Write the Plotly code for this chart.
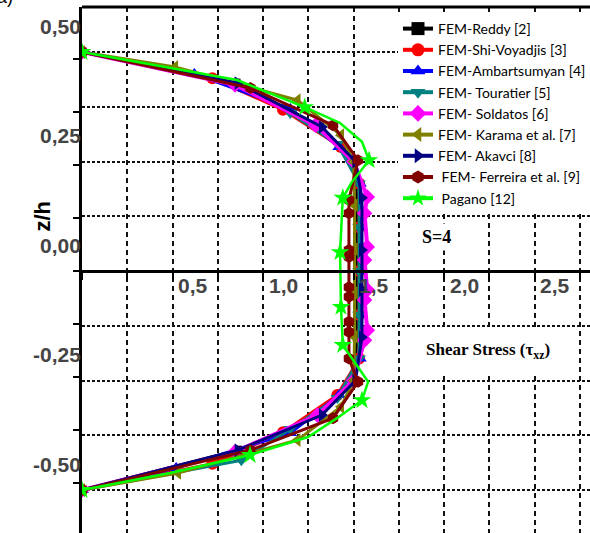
import plotly.graph_objects as go

# ---------------- data ----------------
reddy_z   = [0.5, 0.429, 0.329, 0.25, 0.167, 0.048, -0.043, -0.151, -0.25, -0.329, -0.409, -0.5]
reddy_tau = [0.0, 0.85, 1.31, 1.50, 1.52, 1.52, 1.52, 1.52, 1.50, 1.31, 0.86, 0.0]

shi_z   = [0.5, 0.44, 0.368, 0.283, 0.2, 0.1, 0.0, -0.1, -0.2, -0.283, -0.368, -0.44, -0.5]
shi_tau = [0.0, 0.72, 1.11, 1.43, 1.53, 1.53, 1.53, 1.53, 1.53, 1.41, 1.11, 0.72, 0.0]

amb_z   = [0.5, 0.45, 0.37, 0.283, 0.2, 0.1, 0.0, -0.1, -0.2, -0.283, -0.37, -0.45, -0.5]
amb_tau = [0.0, 0.62, 1.15, 1.42, 1.535, 1.54, 1.54, 1.54, 1.535, 1.42, 1.15, 0.52, 0.0]

tou_z   = [0.5, 0.43, 0.361, 0.29, 0.2, 0.1, 0.0, -0.1, -0.2, -0.29, -0.361, -0.432, -0.5]
tou_tau = [0.0, 0.84, 1.15, 1.41, 1.53, 1.53, 1.53, 1.53, 1.53, 1.41, 1.15, 0.88, 0.0]

sol_z   = [0.5, 0.425, 0.333, 0.25, 0.169, 0.132, 0.055, 0.025, -0.043, -0.066, -0.135, -0.158, -0.25, -0.329, -0.413, -0.5]
sol_tau = [0.0, 0.845, 1.29, 1.50, 1.575, 1.56, 1.575, 1.56, 1.575, 1.56, 1.575, 1.56, 1.50, 1.30, 0.845, 0.0]

kar_z   = [0.5, 0.466, 0.39, 0.31, 0.25, 0.15, 0.05, -0.05, -0.15, -0.25, -0.31, -0.386, -0.461, -0.5]
kar_tau = [0.0, 0.514, 1.19, 1.43, 1.50, 1.505, 1.505, 1.505, 1.505, 1.50, 1.43, 1.19, 0.53, 0.0]

aka_z   = [0.5, 0.429, 0.329, 0.25, 0.167, 0.048, -0.043, -0.151, -0.25, -0.329, -0.409, -0.5]
aka_tau = [0.0, 0.86, 1.325, 1.51, 1.546, 1.546, 1.546, 1.546, 1.51, 1.325, 0.86, 0.0]

fer_z   = [0.5, 0.418, 0.333, 0.253, 0.162, 0.132, 0.048, 0.032, -0.037, -0.059, -0.116, -0.139, -0.2, -0.253, -0.336, -0.409, -0.5]
fer_tau = [0.0, 0.93, 1.386, 1.524, 1.474, 1.474, 1.474, 1.474, 1.474, 1.474, 1.474, 1.474, 1.474, 1.524, 1.386, 0.93, 0.0]

pag_z   = [0.5, 0.463, 0.436, 0.374, 0.338, 0.295, 0.253, 0.203, 0.167, 0.043, -0.082, -0.169, -0.253, -0.295, -0.336, -0.379, -0.42, -0.461, -0.5]
pag_tau = [0.0, 0.486, 0.856, 1.23, 1.425, 1.546, 1.585, 1.49, 1.44, 1.425, 1.43, 1.44, 1.58, 1.546, 1.408, 1.248, 0.928, 0.486, 0.0]
pag_star_idx = [0, 3, 6, 8, 9, 10, 11, 13, 16, 18]

series_names = ["FEM-Reddy [2]", "FEM-Shi-Voyadjis [3]", "FEM-Ambartsumyan [4]",
                "FEM- Touratier [5]", "FEM- Soldatos [6]", "FEM- Karama et al. [7]",
                "FEM- Akavci [8]", " FEM- Ferreira et al. [9]", " Pagano [12]"]

x_tick_vals = [0.5, 1.0, 1.5, 2.0, 2.5]
x_tick_text = ["0,5", "1,0", "1,5", "2,0", "2,5"]
y_tick_vals = [0.5, 0.25, 0.0, -0.25, -0.5]
y_tick_text = ["0,50", "0,25", "0,00", "-0,25", "-0,50"]

# ---------------- styles ----------------
colors  = ["#000000", "#FF0000", "#0000FF", "#008080", "#FF00FF", "#808000", "#000080", "#800000", "#00FF00"]
symbols = ["square", "circle", "triangle-up", "triangle-down", "diamond", "triangle-left", "triangle-right", "hexagon", "star"]
widths  = [3, 3, 3, 3, 4, 3, 3, 3, 2.5]
msizes  = [9, 12, 12, 12, 12, 12, 12, 12, 14]

W, H = 590, 533
X0_PX, X_SCALE = 82, 181.1      # px of tau=0, px per unit
Z0_PX, Z_SCALE = 271, 438       # px of z=0, px per unit
TOP_PX, BOT_PX = 7, 533

xr = [0, (W - X0_PX) / X_SCALE]
yr = [(Z0_PX - BOT_PX) / Z_SCALE, (Z0_PX - TOP_PX) / Z_SCALE]
zero_pos = (0 - yr[0]) / (yr[1] - yr[0])

def paper_x(px):
    return (px - X0_PX) / (W - X0_PX)

def paper_y(py):
    return (BOT_PX - py) / (BOT_PX - TOP_PX)

fig = go.Figure()

data = [(reddy_tau, reddy_z), (shi_tau, shi_z), (amb_tau, amb_z), (tou_tau, tou_z),
        (sol_tau, sol_z), (kar_tau, kar_z), (aka_tau, aka_z), (fer_tau, fer_z)]

for i, (t, z) in enumerate(data):
    fig.add_trace(go.Scatter(x=t, y=z, mode="lines+markers", showlegend=False,
                             line=dict(color=colors[i], width=widths[i]),
                             marker=dict(symbol=symbols[i], size=msizes[i], color=colors[i])))

# Pagano: line through all vertices, stars on the marked points
fig.add_trace(go.Scatter(x=pag_tau, y=pag_z, mode="lines", showlegend=False,
                         line=dict(color=colors[8], width=widths[8])))
fig.add_trace(go.Scatter(x=[pag_tau[i] for i in pag_star_idx], y=[pag_z[i] for i in pag_star_idx],
                         mode="markers", showlegend=False,
                         marker=dict(symbol="star", size=msizes[8], color=colors[8])))

# legend entries
for i, name in enumerate(series_names):
    fig.add_trace(go.Scatter(x=[None], y=[None], mode="lines+markers", name=name,
                             line=dict(color=colors[i], width=4),
                             marker=dict(symbol=symbols[i], size=13, color=colors[i])))

tick_font = dict(family="Liberation Sans, Arial", size=21, color="#444444", weight="bold")

annotations = []
for v, s in zip(x_tick_vals, x_tick_text):
    annotations.append(dict(x=v + 20 / X_SCALE, y=-14.5 / Z_SCALE, xref="x", yref="y", text=s,
                            showarrow=False, xanchor="center", yanchor="middle", font=tick_font))
for v, s in zip(y_tick_vals, y_tick_text):
    annotations.append(dict(x=0, y=v + 26 / Z_SCALE, xref="paper", yref="y", text=s, xshift=1,
                            showarrow=False, xanchor="right", yanchor="middle", font=tick_font))

annotations.append(dict(x=paper_x(27), y=paper_y(216), xref="paper", yref="paper", text="z/h",
                        textangle=-90, showarrow=False,
                        font=dict(family="Liberation Sans, Arial", size=22, color="black", weight="bold")))
annotations.append(dict(x=(436 - X0_PX) / X_SCALE, y=(Z0_PX - 237) / Z_SCALE, xref="x", yref="y",
                        text="S=4", showarrow=False, bgcolor="white", borderpad=3,
                        font=dict(family="Liberation Serif, Times New Roman", size=18, color="black", weight="bold")))
annotations.append(dict(x=(488 - X0_PX) / X_SCALE, y=(Z0_PX - 351) / Z_SCALE, xref="x", yref="y",
                        text="Shear Stress (τ<sub>xz</sub>)", showarrow=False, bgcolor="white", borderpad=12,
                        font=dict(family="Liberation Serif, Times New Roman", size=17, color="black", weight="bold")))
annotations.append(dict(x=paper_x(15), y=paper_y(-3), xref="paper", yref="paper", text="(a)",
                        showarrow=False, xanchor="right", yanchor="middle",
                        font=dict(family="Liberation Sans, Arial", size=18, color="black")))

fig.update_layout(
    width=W, height=H,
    margin=dict(l=X0_PX, r=0, t=TOP_PX, b=H - BOT_PX, autoexpand=False),
    plot_bgcolor="white", paper_bgcolor="white",
    xaxis=dict(range=xr, showgrid=True, gridcolor="#111111", griddash="5px,4px", gridwidth=1.5,
               tick0=0, dtick=0.25, ticks="outside", ticklen=7, tickwidth=2, tickcolor="black",
               showticklabels=False, showline=True, linewidth=3, linecolor="black",
               zeroline=False, anchor="free", position=zero_pos, automargin=False),
    yaxis=dict(range=yr, showgrid=False, zeroline=False, showticklabels=False, automargin=False,
               tickvals=[k * 53 / Z_SCALE for k in range(-4, 6)],
               ticks="outside", ticklen=6, tickwidth=2, tickcolor="black",
               showline=True, linewidth=3, linecolor="black",
               minor=dict(tickvals=[0.5, 0.375, 0.25, 0.125, -0.125, -0.25, -0.375, -0.5],
                          showgrid=True, gridcolor="#111111", griddash="3px,2px", gridwidth=1.5, ticks="")),
    legend=dict(xref="container", yref="container", x=398 / W, y=1 - 13 / H,
                xanchor="left", yanchor="top",
                bgcolor="white", borderwidth=0, tracegroupgap=0,
                font=dict(family="Lato, Liberation Sans, Arial", size=14, color="black")),
    annotations=annotations,
    shapes=[dict(type="line", xref="paper", yref="paper", x0=0, x1=1, y0=1, y1=1,
                 line=dict(color="black", width=3))],
)

fig.write_html("out.html")
